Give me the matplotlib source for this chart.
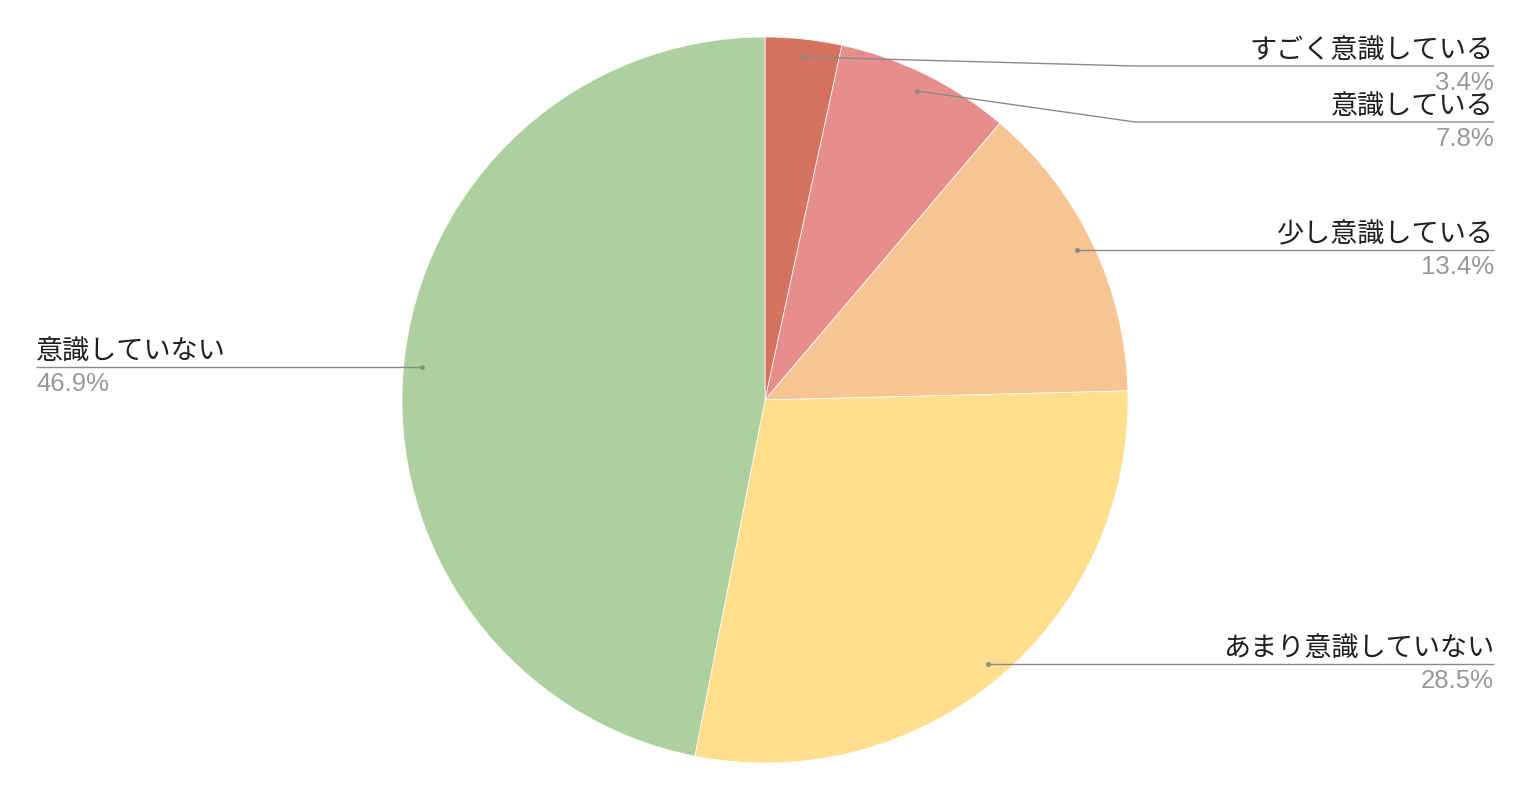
import matplotlib
matplotlib.use("Agg")
import matplotlib.pyplot as plt

labels = ["すごく意識している", "意識している", "少し意識している", "あまり意識していない", "意識していない"]
values = [3.4, 7.8, 13.4, 28.5, 46.9]
pct_labels = ["3.4%", "7.8%", "13.4%", "28.5%", "46.9%"]
colors = ["#D6735E", "#E68E8E", "#F7C594", "#FFDF8D", "#AECF9E"]

W, H = 1532, 801
fig = plt.figure(figsize=(W / 100, H / 100), dpi=100)
ax = fig.add_axes([0, 0, 1, 1])
ax.set_xlim(0, W)
ax.set_ylim(0, H)
ax.set_aspect("equal")
ax.axis("off")

cx, cy, r = 765, H - 400, 363
wedges, _ = ax.pie(values, colors=colors, startangle=90, counterclock=False,
                   center=(cx, cy), radius=r, frame=True,
                   wedgeprops=dict(edgecolor="white", linewidth=0.5))
ax.set_xlim(0, W)
ax.set_ylim(0, H)
ax.axis("off")

# leader layout: (anchor px, elbow px or None, line y px, text side)
layout = [
    ((803, 57), (1135, 66), 66, "right"),
    ((917, 91), (1135, 122), 122, "right"),
    ((1077, 250), None, 250, "right"),
    ((988, 664), None, 664, "right"),
    ((422, 367), None, 367, "left"),
]
cjk = ["Noto Sans CJK JP", "DejaVu Sans"]
line_col = "#8a8a8a"
for lab, pct, (anchor, elbow, ly, side) in zip(labels, pct_labels, layout):
    ax_, ay_ = anchor
    end_x = 1494 if side == "right" else 36
    xs = [ax_]
    ys = [H - ay_]
    if elbow is not None:
        xs.append(elbow[0]); ys.append(H - elbow[1])
    xs.append(end_x); ys.append(H - ly)
    ax.plot(xs, ys, color=line_col, lw=1.0, solid_capstyle="butt")
    ax.plot([ax_], [H - ay_], "o", color=line_col, ms=2.5)
    ha = "right" if side == "right" else "left"
    ax.text(end_x, H - ly + 8, lab, ha=ha, va="baseline", fontsize=19.5,
            family=cjk, color="#1f1f1f")
    ax.text(end_x, H - ly - 24, pct, ha=ha, va="baseline", fontsize=18.5,
            family=["Liberation Sans", "DejaVu Sans"], color="#999999")

fig.savefig("out.png", dpi=100, facecolor="white")
